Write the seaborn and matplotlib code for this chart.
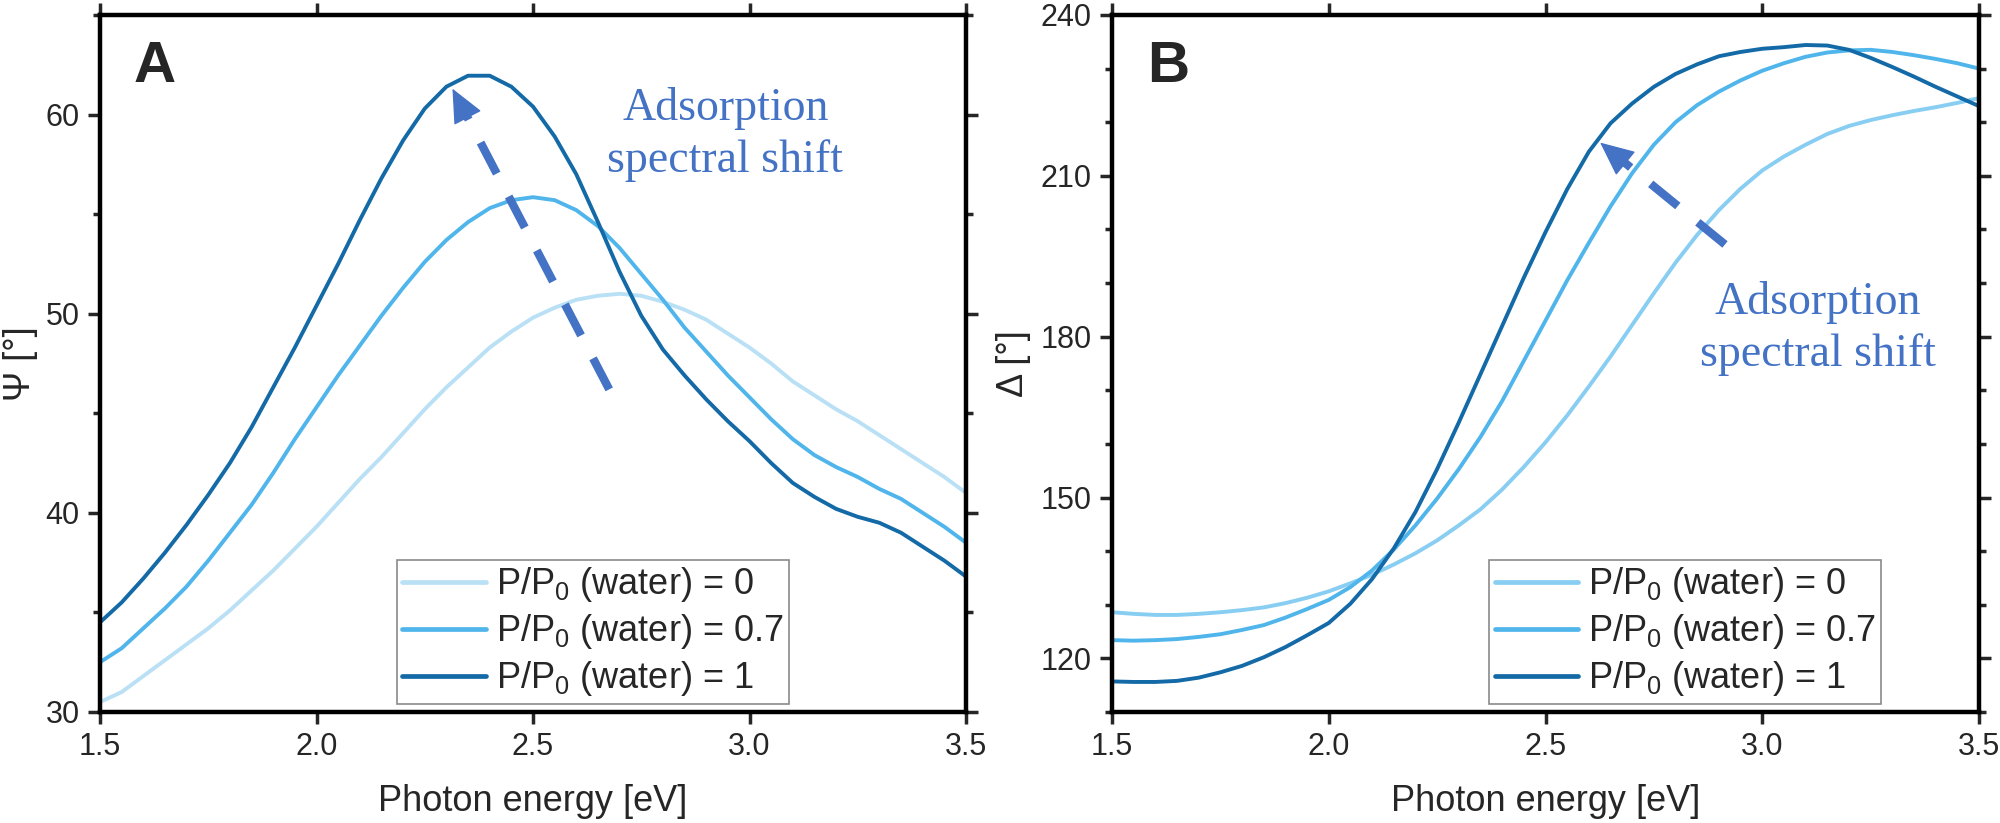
import numpy as np
import pandas as pd
import matplotlib
matplotlib.use("Agg")
import matplotlib.pyplot as plt
from matplotlib.ticker import MultipleLocator, FormatStrFormatter
import seaborn as sns

sns.set_style("ticks")
plt.rcParams['font.family'] = ['Liberation Sans', 'DejaVu Sans']
plt.rcParams['mathtext.fontset'] = 'custom'
plt.rcParams['mathtext.rm'] = 'Liberation Sans'
plt.rcParams['mathtext.it'] = 'Liberation Sans'

# photon energy grid [eV], shared by all curves
energy = [1.50, 1.55, 1.60, 1.65, 1.70, 1.75, 1.80, 1.85, 1.90, 1.95,
          2.00, 2.05, 2.10, 2.15, 2.20, 2.25, 2.30, 2.35, 2.40, 2.45,
          2.50, 2.55, 2.60, 2.65, 2.70, 2.75, 2.80, 2.85, 2.90, 2.95,
          3.00, 3.05, 3.10, 3.15, 3.20, 3.25, 3.30, 3.35, 3.40, 3.45, 3.50]

labels = ["P/P$_0$ (water) = 0", "P/P$_0$ (water) = 0.7", "P/P$_0$ (water) = 1"]

# panel A: Psi [deg]
psi_p0 = [30.5, 31.0, 31.8, 32.6, 33.4, 34.2, 35.1, 36.1, 37.1, 38.2,
          39.3, 40.5, 41.7, 42.8, 44.0, 45.2, 46.3, 47.3, 48.3, 49.1,
          49.8, 50.3, 50.7, 50.9, 51.0, 50.9, 50.6, 50.2, 49.7, 49.0,
          48.3, 47.5, 46.6, 45.9, 45.2, 44.6, 43.9, 43.2, 42.5, 41.8, 41.0]
psi_p07 = [32.5, 33.2, 34.2, 35.2, 36.3, 37.6, 39.0, 40.4, 42.0, 43.7,
           45.3, 46.9, 48.4, 49.9, 51.3, 52.6, 53.7, 54.6, 55.3, 55.7,
           55.85, 55.7, 55.2, 54.4, 53.3, 52.0, 50.7, 49.3, 48.1, 46.9,
           45.8, 44.7, 43.7, 42.9, 42.3, 41.8, 41.2, 40.7, 40.0, 39.3, 38.5]
psi_p1 = [34.5, 35.5, 36.7, 38.0, 39.4, 40.9, 42.5, 44.3, 46.3, 48.3,
          50.4, 52.5, 54.7, 56.8, 58.7, 60.3, 61.4, 61.95, 61.95, 61.4,
          60.4, 58.9, 57.0, 54.6, 52.1, 49.9, 48.2, 46.9, 45.7, 44.6,
          43.6, 42.5, 41.5, 40.8, 40.2, 39.8, 39.5, 39.0, 38.3, 37.6, 36.8]

# panel B: Delta [deg]
delta_p0 = [128.6, 128.3, 128.1, 128.1, 128.3, 128.6, 129.0, 129.5, 130.3, 131.3,
            132.5, 134.0, 135.6, 137.5, 139.6, 142.0, 144.8, 147.8, 151.5, 155.7,
            160.3, 165.3, 170.7, 176.3, 182.2, 188.1, 193.8, 199.0, 203.6, 207.6,
            211.0, 213.6, 215.8, 217.8, 219.3, 220.4, 221.3, 222.1, 222.8, 223.6, 224.5]
delta_p07 = [123.4, 123.3, 123.4, 123.6, 124.0, 124.5, 125.3, 126.2, 127.6, 129.2,
             130.9, 133.3, 136.4, 140.3, 144.8, 149.8, 155.3, 161.3, 168.0, 175.5,
             183.0, 190.5, 197.5, 204.3, 210.5, 215.8, 220.0, 223.2, 225.7, 227.8,
             229.6, 231.0, 232.2, 233.0, 233.4, 233.5, 233.1, 232.5, 231.8, 231.0, 230.0]
delta_p1 = [115.7, 115.6, 115.6, 115.8, 116.4, 117.4, 118.6, 120.2, 122.1, 124.3,
            126.6, 130.2, 134.8, 140.5, 147.3, 155.3, 164.0, 173.0, 182.0, 191.0,
            199.5, 207.5, 214.5, 219.8, 223.5, 226.6, 229.0, 230.8, 232.3, 233.1,
            233.7, 234.0, 234.4, 234.3, 233.5, 232.0, 230.3, 228.5, 226.6, 224.8, 223.0]

# annotation anchors (data coords): arrow tail, arrow tip, text centre
arrow_a = [(2.676, 46.2), (2.314, 61.3)]
text_a = (2.944, 59.0)
arrow_b = [(2.914, 197.2), (2.626, 216.2)]
text_b = (3.128, 181.5)

pal_a = ["#b9e0f5", "#4fb5eb", "#136aa6"]
pal_b = ["#88cdf2", "#4fb5eb", "#136aa6"]
note_color = "#4472c4"


def long_frame(col, series):
    rows = []
    for lab, vals in zip(labels, series):
        rows.append(pd.DataFrame({"energy": energy, col: vals, "sample": lab}))
    return pd.concat(rows, ignore_index=True)


def dashed_arrow(ax, tail, tip, head_px=30):
    # dashed shaft plus a solid triangular head
    p0 = ax.transData.transform(tail)
    p1 = ax.transData.transform(tip)
    t = head_px / np.hypot(*(p0 - p1))
    base = (tip[0] + t * (tail[0] - tip[0]), tip[1] + t * (tail[1] - tip[1]))
    ax.plot([tail[0], base[0]], [tail[1], base[1]], color=note_color, lw=6,
            dashes=(4.2, 3.1), solid_capstyle="butt", zorder=4)
    ax.annotate("", xy=tip, xytext=base,
                arrowprops=dict(arrowstyle="-|>,head_length=1.1,head_width=0.5",
                                color=note_color, lw=1, mutation_scale=20,
                                shrinkA=0, shrinkB=0), zorder=4)


df_a = long_frame("psi", [psi_p0, psi_p07, psi_p1])
df_b = long_frame("delta", [delta_p0, delta_p07, delta_p1])

fig = plt.figure(figsize=(20, 8.23), dpi=100)
ax_a = fig.add_axes([0.050, 0.1349, 0.433, 0.8469])
ax_b = fig.add_axes([0.556, 0.1349, 0.4335, 0.8469])

sns.lineplot(data=df_a, x="energy", y="psi", hue="sample", hue_order=labels,
             palette=pal_a, linewidth=2.8, estimator=None, ax=ax_a)
sns.lineplot(data=df_b, x="energy", y="delta", hue="sample", hue_order=labels,
             palette=pal_b, linewidth=2.8, estimator=None, ax=ax_b)

ax_a.set_ylim(30, 65)
ax_a.yaxis.set_major_locator(MultipleLocator(10))
ax_a.yaxis.set_minor_locator(MultipleLocator(5))
ax_b.set_ylim(110, 240)
ax_b.yaxis.set_major_locator(MultipleLocator(30))
ax_b.yaxis.set_minor_locator(MultipleLocator(10))

for ax, ylab, ylx, lx in [(ax_a, "Ψ [°]", -0.0716, 0.343), (ax_b, "Δ [°]", -0.094, 0.435)]:
    ax.set_xlim(1.5, 3.5)
    ax.xaxis.set_major_locator(MultipleLocator(0.5))
    ax.xaxis.set_major_formatter(FormatStrFormatter("%.1f"))
    ax.set_xlabel("Photon energy [eV]", fontsize=26)
    ax.set_ylabel(ylab, fontsize=26)
    ax.xaxis.set_label_coords(0.5, -0.104)
    ax.yaxis.set_label_coords(ylx, 0.5)
    ax.tick_params(which="both", direction="out", top=True, right=True,
                   labeltop=False, labelright=False, width=2.5, labelsize=22, pad=6)
    ax.tick_params(which="major", length=8.6)
    ax.tick_params(which="minor", length=5)
    for sp in ax.spines.values():
        sp.set_linewidth(3.2)
        sp.set_color("black")
    handles, labs = ax.get_legend_handles_labels()
    leg = ax.legend(handles, labs, fontsize=26, frameon=True, fancybox=False,
                    edgecolor="#8a8a8a", framealpha=1, handlelength=2.3,
                    handletextpad=0.3, labelspacing=0.22, borderpad=0.15,
                    borderaxespad=0, loc="lower left", bbox_to_anchor=(lx, 0.012))
    leg.get_frame().set_linewidth(1.2)
    for h in leg.get_lines():
        h.set_linewidth(3.4)

ax_a.text(0.039, 0.964, "A", transform=ax_a.transAxes, fontsize=42,
          fontweight="bold", ha="left", va="top")
ax_b.text(0.040, 0.964, "B", transform=ax_b.transAxes, fontsize=42,
          fontweight="bold", ha="left", va="top")

for ax, arr, txt in [(ax_a, arrow_a, text_a), (ax_b, arrow_b, text_b)]:
    dashed_arrow(ax, arr[0], arr[1])
    ax.text(txt[0], txt[1], "Adsorption\nspectral shift", color=note_color,
            fontsize=33, family=["Liberation Serif", "DejaVu Serif"],
            ha="center", va="center", linespacing=1.3)

fig.savefig("out.png", dpi=100)
